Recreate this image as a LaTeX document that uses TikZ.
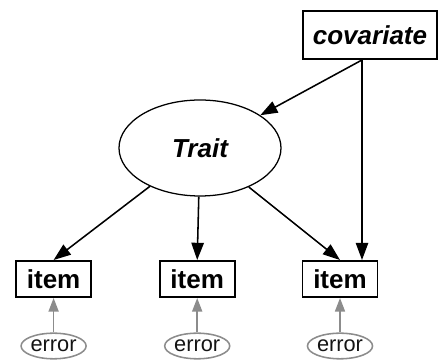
\documentclass[tikz,border=0pt]{standalone}
\usepackage{fontspec}
\setmainfont{Liberation Sans}
\usetikzlibrary{arrows.meta,positioning,shapes.geometric}
\definecolor{ink}{RGB}{20,20,20}
\definecolor{fog}{RGB}{140,140,140}
\tikzset{
  >={Triangle[length=4.3mm,width=3.1mm]},
  obs/.style={draw=black,line width=1.4pt,fill=white,inner sep=0pt,
    minimum width=#1,minimum height=9mm,font=\fontsize{18.5}{20}\selectfont\bfseries},
  obs/.default=18.75mm,
  latent/.style={ellipse,draw=black,line width=0.9pt,inner sep=0pt,
    minimum width=40.5mm,minimum height=24mm,font=\fontsize{18.5}{20}\selectfont\bfseries\itshape},
  err/.style={ellipse,draw=fog,line width=1.1pt,inner sep=0pt,text=ink,
    minimum width=13.5mm,minimum height=6.4mm,font=\fontsize{15.5}{17}\selectfont},
  flow/.style={->,line width=1.1pt,draw=black},
  errflow/.style={-{Triangle[length=3.4mm,width=2.5mm]},line width=1.2pt,draw=fog},
}
\begin{document}
\begin{tikzpicture}
  \useasboundingbox (0,0) rectangle (11,9.075);
  \node[obs=33.5mm,minimum height=12mm,font=\fontsize{18.5}{20}\selectfont\bfseries\itshape] (covariate) at (9.25,8.2) {covariate};
  \node[latent] (trait) at (5.0,5.375) {Trait};
  \coordinate (cv) at ([xshift=-2mm]covariate.south);
  % items and their errors
  \foreach \x [count=\i] in {1.34,4.93,8.5} {
    \node[obs] (item\i) at (\x,2.1) {item};
    \node[err] (error\i) at (\x,0.425) {error};
    \draw[errflow] (error\i) -- (item\i);
    \draw[flow] (trait) -- (item\i.north);
  }
  \draw[flow] (cv) -- (trait);
  \draw[flow] (cv) -- (cv |- item3.north);
\end{tikzpicture}
\end{document}
